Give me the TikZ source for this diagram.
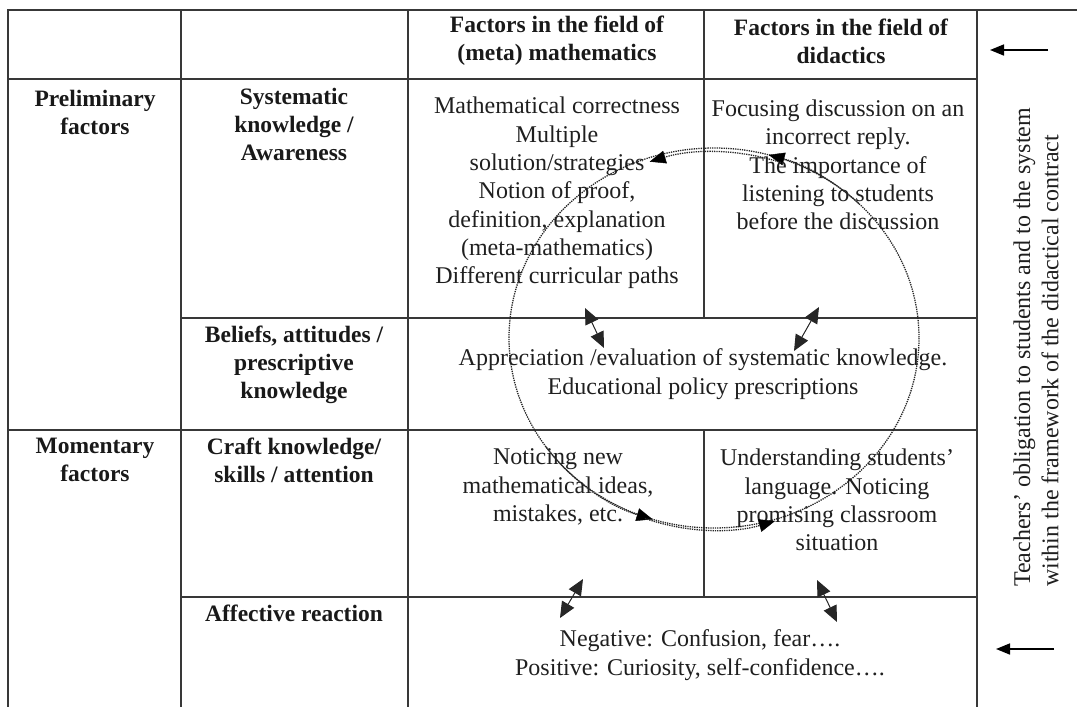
\documentclass[tikz,border=0pt]{standalone}
\usepackage{fontspec}
\setmainfont{Liberation Serif}
\usetikzlibrary{arrows.meta}
\begin{document}
\begin{tikzpicture}[x=1pt,y=-1pt,
  grid/.style={draw=black!78, line width=1.8pt},
  hd/.style={font=\fontsize{23.5}{28}\selectfont\bfseries, align=center, inner sep=0pt, text=black!90},
  body/.style={font=\fontsize{24}{28.3}\selectfont, align=center, inner sep=0pt, text=black!88},
  tip/.style={-{Triangle[length=16pt,width=13pt,color=black,line width=0.4pt,sep=-2pt]}},
  link/.style={line width=1pt, draw=black!85, {Triangle[length=16pt,width=14pt]}-{Triangle[length=16pt,width=14pt]}},
  cycle/.style={line width=1.3pt, dash pattern=on 1.3pt off 1pt, draw=black!85},
  sidearrow/.style={line width=1.6pt, -{Triangle[length=14pt,width=11pt]}}]

\useasboundingbox (0,0) rectangle (1077,707);

% table rules
\draw[grid] (8,707) -- (8,10) -- (1077,10);
\draw[grid] (181,10) -- (181,707);
\draw[grid] (408,10) -- (408,707);
\draw[grid] (977,10) -- (977,707);
\draw[grid] (8,79) -- (977,79);
\draw[grid] (181,318) -- (977,318);
\draw[grid] (8,430) -- (977,430);
\draw[grid] (181,597) -- (977,597);
\draw[grid] (704,10) -- (704,318);
\draw[grid] (704,430) -- (704,597);

% column headers
\node[hd] (hmath) at (557,41) {Factors in the field of\\(meta) mathematics};
\node[hd] (hdid) at (841,41) {Factors in the field of\\didactics};

% row headers
\node[hd] (prelim) at (95,112) {Preliminary\\factors};
\node[hd] (syst) at (294,124) {Systematic\\knowledge /\\Awareness};
\node[hd] (belief) at (294,365) {Beliefs, attitudes /\\prescriptive\\knowledge};
\node[hd] (moment) at (95,460) {Momentary\\factors};
\node[hd] (craft) at (294,460) {Craft knowledge/\\skills / attention};
\node[hd] (affect) at (294,613) {Affective reaction};

% cell contents
\node[body] (cmath) at (557,193) {Mathematical correctness\\Multiple\\solution/strategies\\Notion of proof,\\definition, explanation\\(meta-mathematics)\\Different curricular paths};
\node[body] (cdid) at (838,165) {Focusing discussion on an\\incorrect reply.\\The importance of\\listening to students\\before the discussion};
\node[body] (cbel) at (703,374) {Appreciation /evaluation of systematic knowledge.\\Educational policy prescriptions};
\node[body] (cnot) at (558,487) {Noticing new\\mathematical ideas,\\mistakes, etc.};
\node[body] (cund) at (837,500) {Understanding students'\\language. Noticing\\promising classroom\\situation};
\node[body] (caff) at (700,655) {Negative: Confusion, fear….\\Positive: Curiosity, self-confidence….};

% side column
\node[body, rotate=90, anchor=west, align=left] (side) at (1036,587) {Teachers' obligation to students and to the system\\within the framework of the didactical contract};
\coordinate (t1) at (1048,50);
\coordinate (t2) at (990,50);
\coordinate (b1) at (1054,649);
\coordinate (b2) at (996,649);
\draw[sidearrow] (t1) -- (t2);
\draw[sidearrow] (b1) -- (b2);

% the cycle through the four fields
\coordinate (cc) at (714,338);
\draw[cycle] (cc) ellipse [x radius=205, y radius=190];
\draw[cycle, tip] ([shift={(-45:205 and 190)}]cc) arc[start angle=-45, end angle=-74, x radius=205, y radius=190];
\draw[cycle, tip] ([shift={(-70:202 and 186)}]cc) arc[start angle=-70, end angle=-108, x radius=202, y radius=186];
\draw[cycle, tip] ([shift={(-215:205 and 190)}]cc) arc[start angle=-215, end angle=-252, x radius=205, y radius=190];
\draw[cycle, tip] ([shift={(-250:202 and 192)}]cc) arc[start angle=-250, end angle=-287, x radius=202, y radius=192];

% links between neighbouring cells
\coordinate (a1) at (585,308);
\coordinate (a2) at (604,348);
\coordinate (a3) at (819,307);
\coordinate (a4) at (794,351);
\coordinate (a5) at (583,579);
\coordinate (a6) at (560,618);
\coordinate (a7) at (817,580);
\coordinate (a8) at (837,622);
\draw[link] (a1) -- (a2);
\draw[link] (a3) -- (a4);
\draw[link] (a5) -- (a6);
\draw[link] (a7) -- (a8);
\end{tikzpicture}
\end{document}
